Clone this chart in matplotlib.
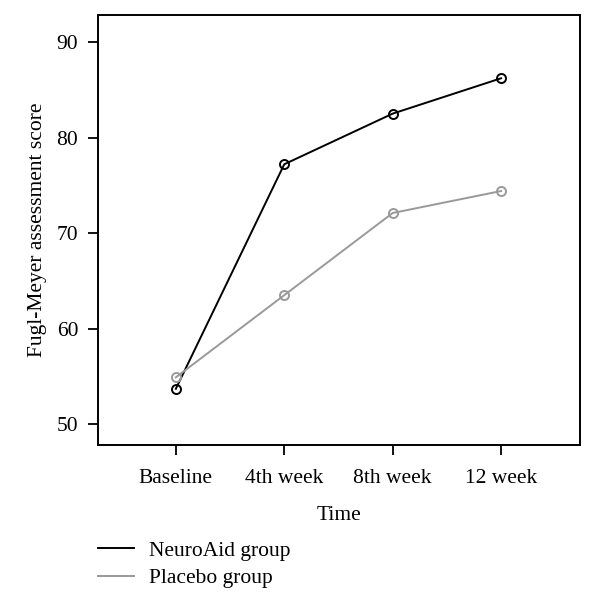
import matplotlib
matplotlib.use("Agg")
import matplotlib.pyplot as plt

categories = ["Baseline", "4th week", "8th week", "12 week"]
neuroaid = [53.7, 77.2, 82.5, 86.2]
placebo = [54.9, 63.5, 72.1, 74.4]
yticks = [50, 60, 70, 80, 90]

plt.rcParams['font.family'] = ['Liberation Serif', 'DejaVu Serif']
FS = 15.5

fig = plt.figure(figsize=(6.0, 6.09), dpi=100)
ax = fig.add_axes([0.163, 0.269, 0.804, 0.706])

x = list(range(len(categories)))
l1, = ax.plot(x, neuroaid, color='black', lw=1.4, marker='o', ms=6.5,
              mfc='none', mec='black', mew=1.4, label='NeuroAid group')
l2, = ax.plot(x, placebo, color='#999999', lw=1.4, marker='o', ms=6.5,
              mfc='none', mec='#999999', mew=1.4, label='Placebo group')

ax.set_xlim(-0.72, 3.73)
ax.set_ylim(47.8, 92.8)
ax.set_xticks(x)
ax.set_xticklabels(categories)
ax.set_yticks(yticks)
for s in ax.spines.values():
    s.set_linewidth(1.4)
ax.tick_params(axis='both', labelsize=FS, width=1.3, length=7, pad=7)
ax.tick_params(axis='x', pad=10)
ax.set_xlabel('Time', fontsize=FS, labelpad=13)
ax.set_ylabel('Fugl-Meyer assessment score', fontsize=FS, labelpad=7)

fig.legend(handles=[l1, l2], labels=['NeuroAid group', 'Placebo group'],
           loc='upper left', bbox_to_anchor=(0.163, 0.112), frameon=False,
           fontsize=FS, handlelength=1.7, handletextpad=0.7,
           labelspacing=0.35, borderaxespad=0, borderpad=0)
leg = fig.legends[0]
for h in leg.legend_handles:
    h.set_marker('')

fig.savefig('out.png', dpi=100)
